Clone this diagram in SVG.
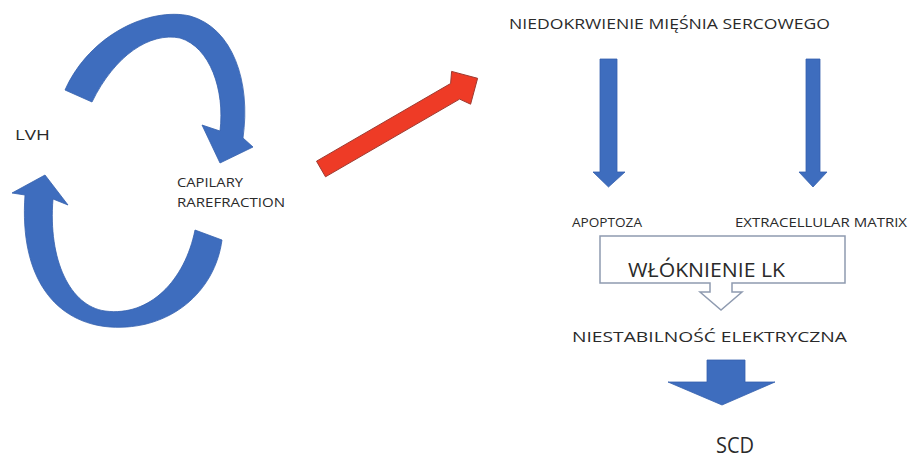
<svg xmlns="http://www.w3.org/2000/svg" width="909" height="464" viewBox="0 0 909 464">
<style>
.t{font-family:"Open Sans","Liberation Sans",sans-serif;fill:#2a2a2a;}
.blue{fill:#3E6DBE;stroke:#3561AD;stroke-width:0.8;}
.red{fill:#EE3B26;stroke:#9E3A30;stroke-width:1;}
.open{fill:#fff;stroke:#8F9BB0;stroke-width:1.5;}
</style>
<rect width="909" height="464" fill="#fff"/>
<g id="connectors">
<path class="blue" d="M65,90 C90,34 150,7 190,16 C233,28 251,82 243,138 L253,147 L220,163 L202,125 L220,131 C225,90 210,47 180,38 C150,32 115,55 92,102 Z"/>
<path class="blue" d="M222,240 C215,292 170,331 110,327 C57,323 19,280 25,195 L12,193 L45,175 L68,205 L53,199 C48,260 70,306 105,311 C150,317 185,280 195,230 Z"/>
<path class="red" d="M316.5,161.2 L450.6,83.5 L451.6,71.4 L477.6,78.3 L470.6,104.2 L459.6,99.1 L325.5,176.8 Z"/>
<path class="blue" d="M600,59 L617,59 L617,172 L625,172 L608.5,187 L593,172 L600,172 Z"/>
<path class="blue" d="M806,59 L820,59 L820,172 L827,172 L813,187 L799,172 L806,172 Z"/>
<path class="blue" d="M707,360 L745,360 L745,382 L775,382 L722,405 L668,382 L707,382 Z"/>
</g>
<g id="n-niedokrwienie"><text class="t" x="509" y="29" font-size="14" textLength="321" lengthAdjust="spacingAndGlyphs">NIEDOKRWIENIE MIĘŚNIA SERCOWEGO</text></g>
<g id="n-lvh"><text class="t" x="15" y="140" font-size="15" textLength="35" lengthAdjust="spacingAndGlyphs">LVH</text></g>
<g id="n-capilary"><text class="t" x="177" y="187" font-size="13" textLength="66" lengthAdjust="spacingAndGlyphs">CAPILARY</text><text class="t" x="177" y="207" font-size="13" textLength="108" lengthAdjust="spacingAndGlyphs">RAREFRACTION</text></g>
<g id="n-apoptoza"><text class="t" x="572" y="227" font-size="12" textLength="70" lengthAdjust="spacingAndGlyphs">APOPTOZA</text></g>
<g id="n-matrix"><text class="t" x="735" y="227" font-size="12" textLength="172" lengthAdjust="spacingAndGlyphs">EXTRACELLULAR  MATRIX</text></g>
<g id="n-wloknienie">
<path class="open" d="M600,236 L845,236 L845,283 L732,283 L732,292 L742,292 L721,310 L700,292 L710,292 L710,283 L600,283 Z"/>
<text class="t" x="628" y="277" font-size="20" textLength="157" lengthAdjust="spacingAndGlyphs">WŁÓKNIENIE  LK</text>
</g>
<g id="n-niestabilnosc"><text class="t" x="572" y="342" font-size="15" textLength="275" lengthAdjust="spacingAndGlyphs">NIESTABILNOŚĆ ELEKTRYCZNA</text></g>
<g id="n-scd"><text class="t" x="716" y="453" font-size="22" textLength="38" lengthAdjust="spacingAndGlyphs">SCD</text></g>
</svg>
